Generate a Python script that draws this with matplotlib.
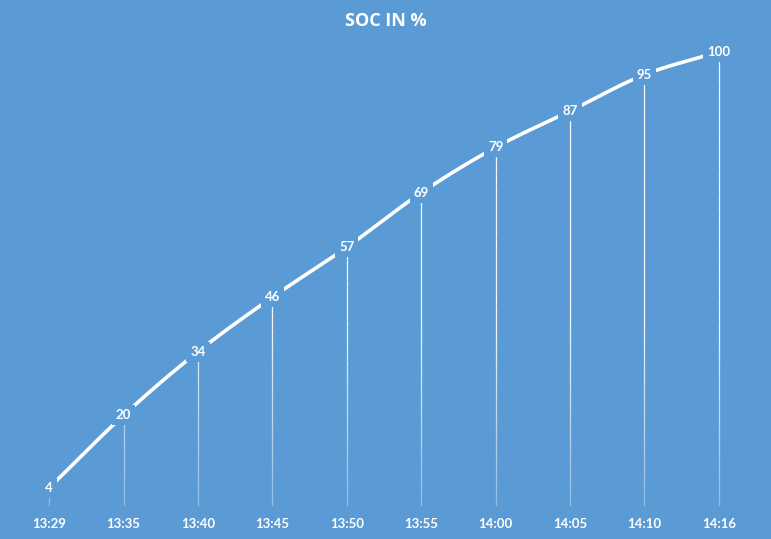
import numpy as np
import matplotlib
matplotlib.use("Agg")
import matplotlib.pyplot as plt
from matplotlib.collections import LineCollection

times = ["13:29", "13:35", "13:40", "13:45", "13:50", "13:55", "14:00", "14:05", "14:10", "14:16"]
soc = [4, 20, 34, 46, 57, 69, 79, 87, 95, 100]

BG = "#5B9BD5"

fig = plt.figure(figsize=(7.71, 5.39), dpi=100, facecolor=BG)
ax = fig.add_axes([12/771, 1 - 506/539, (756 - 12)/771, (506 - 52)/539])
ax.set_facecolor(BG)

x = np.arange(len(times), dtype=float)
y = np.array(soc, dtype=float)

# Catmull-Rom smoothing (render style like Excel smoothed line)
def catmull(xp, yp, n=30):
    P = np.column_stack([xp, yp])
    P = np.vstack([2 * P[0] - P[1], P, 2 * P[-1] - P[-2]])
    out = []
    for i in range(1, len(P) - 2):
        p0, p1, p2, p3 = P[i - 1], P[i], P[i + 1], P[i + 2]
        t = np.linspace(0, 1, n, endpoint=False)[:, None]
        seg = 0.5 * ((2 * p1) + (-p0 + p2) * t + (2 * p0 - 5 * p1 + 4 * p2 - p3) * t ** 2
                     + (-p0 + 3 * p1 - 3 * p2 + p3) * t ** 3)
        out.append(seg)
    out.append(P[-2][None, :])
    out = np.vstack(out)
    return out[:, 0], out[:, 1]

sx, sy = catmull(x, y)
ax.plot(sx, sy, color="white", lw=2.6, solid_capstyle="butt", zorder=3)

# drop lines with fade toward bottom
for xi, yi in zip(x, y):
    ys = np.linspace(0, yi, 40)
    segs = [[(xi, ys[k]), (xi, ys[k + 1])] for k in range(len(ys) - 1)]
    frac = np.clip((ys[:-1]) / 40.0, 0, 1)
    alphas = 0.35 + 0.6 * frac
    cols = [(1, 1, 1, a) for a in alphas]
    lc = LineCollection(segs, colors=cols, linewidths=0.9, zorder=2)
    ax.add_collection(lc)

for xi, yi in zip(x, y):
    ax.text(xi, yi, f"{int(yi)}", ha="center", va="center", color="white",
            fontsize=9.5, fontweight="bold", family="Lato", zorder=5,
            bbox=dict(boxstyle="square,pad=0.3", fc=BG, ec="none"))

ax.set_xlim(-0.5, len(times) - 0.5)
ax.set_ylim(0, 100)
ax.set_xticks(x)
ax.set_xticklabels(times, color="white", fontsize=9.5, fontweight="bold", family="Lato")
ax.tick_params(axis="x", length=0, pad=8.5)
ax.set_yticks([])
for s in ax.spines.values():
    s.set_visible(False)

fig.text(0.5, 1 - 21/539, "SOC IN %", ha="center", va="center", color="white",
         fontsize=13, fontweight="bold", family="Open Sans")

fig.savefig("out.png", dpi=100, facecolor=BG)
